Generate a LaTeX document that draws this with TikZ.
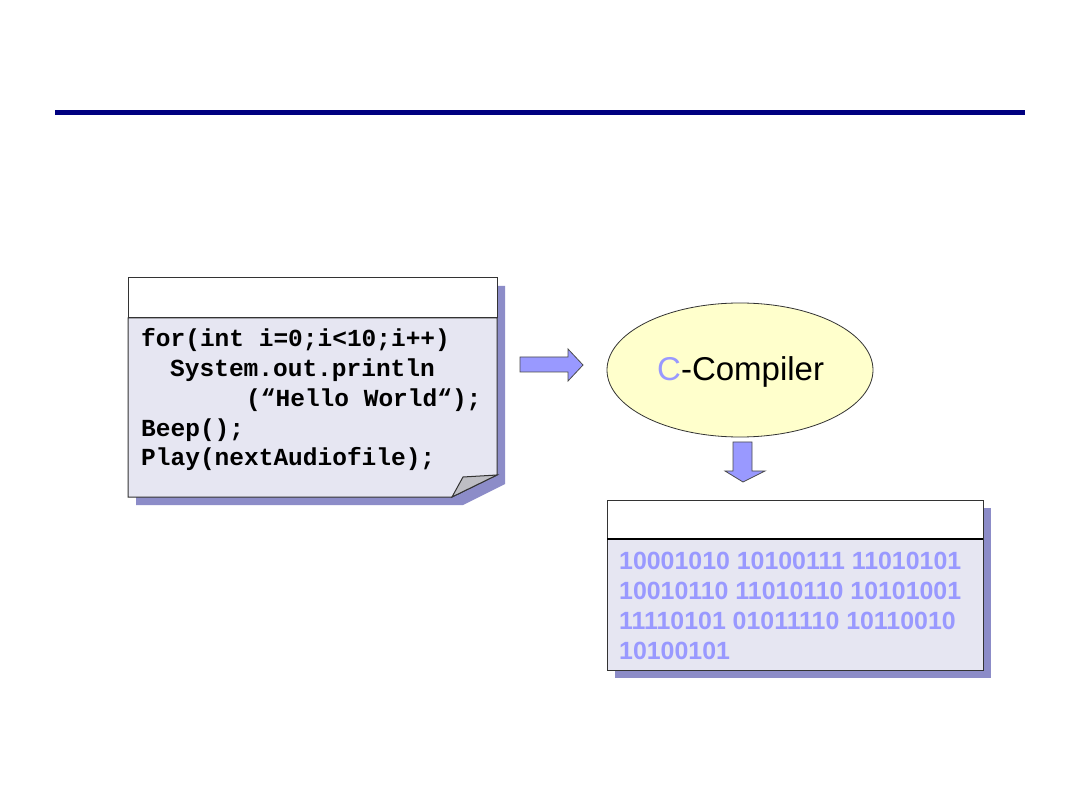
\documentclass[tikz,border=0pt]{standalone}
\usepackage{fontspec}
\setmainfont{Liberation Sans}
\newfontfamily\codefont{Liberation Mono}
\definecolor{navyline}{RGB}{0,0,128}
\definecolor{lavender}{RGB}{230,230,242}
\definecolor{shadowblue}{RGB}{140,140,200}
\definecolor{periw}{RGB}{153,153,255}
\definecolor{paleyellow}{RGB}{255,255,204}
\definecolor{foldgray}{RGB}{190,190,196}
\tikzset{
  codeline/.style={anchor=base west, inner sep=0pt, font=\codefont\bfseries\fontsize{24.5}{30}\selectfont},
  binline/.style={anchor=base west, inner sep=0pt, text=periw, font=\bfseries\fontsize{24.9}{30}\selectfont},
  blockarrow/.style={fill=periw, draw=black!70, line width=0.8pt, line join=miter},
  boxline/.style={draw=black!80, line width=1pt},
}
\begin{document}
\begin{tikzpicture}[x=1pt,y=-1pt]
\useasboundingbox[fill=white] (0,0) rectangle (1080,810);
% title rule
\fill[navyline] (55,110) rectangle (1025,115);

% ---- source code sheet ----
\fill[shadowblue] (136,286) -- (505,286) -- (505,484) -- (463,505) -- (136,505) -- cycle;
\path[fill=lavender, boxline] (128,318) -- (497,318) -- (497,475) -- (452,497) -- (128,497) -- cycle;
\path[fill=white, boxline] (128,278) rectangle (497,318);
\path[fill=foldgray, boxline, line join=miter] (452,497) -- (463,477) -- (497,475) -- cycle;
\node[codeline] (code1) at (141,347) {for(int i=0;i<10;i++)};
\node[codeline] (code2) at (170,377) {System.out.println};
\node[codeline] (code3) at (246,407) {(“Hello World“);};
\node[codeline] (code4) at (141,437) {Beep();};
\node[codeline] (code5) at (141,466) {Play(nextAudiofile);};

% ---- arrow to compiler ----
\path[blockarrow] (520,357) -- (568,357) -- (568,349) -- (583,365) -- (568,381) -- (568,372) -- (520,372) -- cycle;

% ---- compiler ----
\path[fill=paleyellow, draw=black!80, line width=0.8pt] (740,370) ellipse [x radius=133, y radius=67];
\node[anchor=base west, inner sep=0pt, font=\fontsize{33}{36}\selectfont] (compiler) at (657,381) {\textcolor{periw}{C}-Compiler};

% ---- arrow down ----
\path[blockarrow] (733,442) -- (752,442) -- (752,471) -- (765,471) -- (743,482) -- (725,471) -- (733,471) -- cycle;

% ---- binary box ----
\fill[shadowblue] (615,508) rectangle (991,678);
\path[fill=lavender, boxline] (607,539) rectangle (983,670);
\path[fill=white, boxline] (607,500) rectangle (983,539);
\draw[black, line width=2pt] (607,539) -- (983,539);
\node[binline] (bin1) at (619,569) {10001010 10100111 11010101};
\node[binline] (bin2) at (619,599) {10010110 11010110 10101001};
\node[binline] (bin3) at (619,629) {11110101 01011110 10110010};
\node[binline] (bin4) at (619,659) {10100101};
\end{tikzpicture}
\end{document}
